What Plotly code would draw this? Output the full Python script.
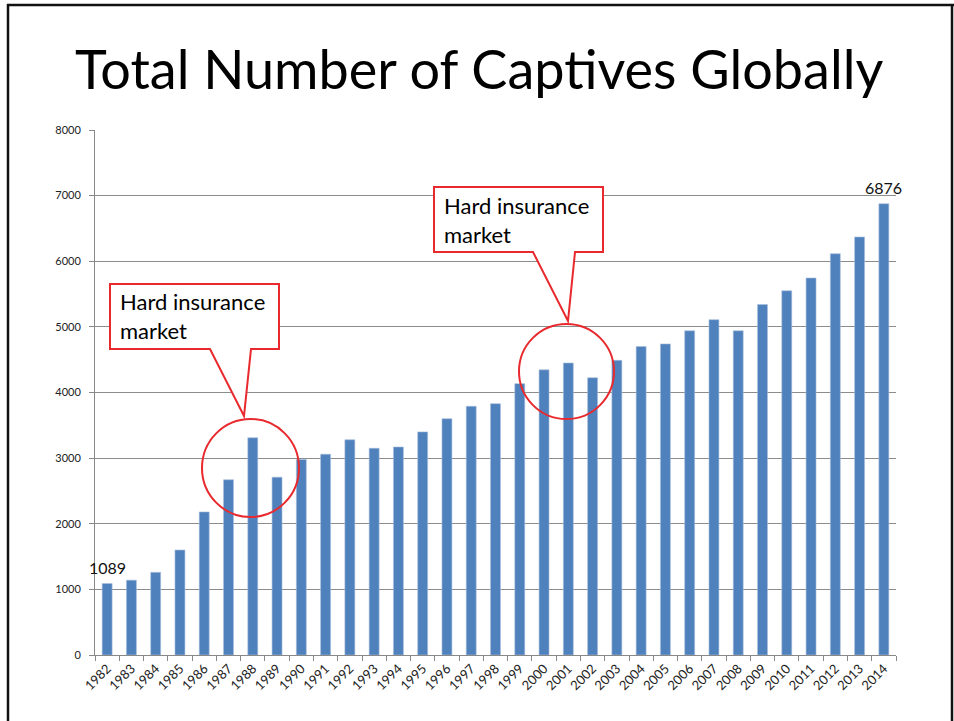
import plotly.graph_objects as go

years = [str(y) for y in range(1982, 2015)]
captives = [1089, 1140, 1260, 1600, 2180, 2670, 3310, 2710, 2980, 3060,
            3280, 3150, 3170, 3400, 3600, 3790, 3830, 4135, 4345, 4450,
            4225, 4490, 4700, 4740, 4940, 5110, 4940, 5340, 5550, 5745,
            6115, 6370, 6876]
labelled = {"1982": "1089", "2014": "6876"}
y_ticks = [0, 1000, 2000, 3000, 4000, 5000, 6000, 7000, 8000]

W, H = 954, 721
L, R, T, B = 95, 896, 130, 655

def px(x):
    return (x - L) / (R - L)

def py(y):
    return (B - y) / (B - T)

FONT = "Lato"
RED = "#E8292D"

fig = go.Figure()
fig.add_trace(go.Bar(
    x=years, y=captives,
    marker=dict(color="#4F81BD", line=dict(color="#A7BEDC", width=0.6)),
    hoverinfo="x+y",
))

shapes = []
# slide border
shapes.append(dict(type="line", xref="paper", yref="paper",
                   x0=px(8), x1=px(8), y0=py(4), y1=py(721), line=dict(color="#111", width=2.5)))
shapes.append(dict(type="line", xref="paper", yref="paper",
                   x0=px(7), x1=px(954), y0=py(5), y1=py(5), line=dict(color="#111", width=2.5)))
shapes.append(dict(type="line", xref="paper", yref="paper",
                   x0=px(952), x1=px(952), y0=py(4), y1=py(721), line=dict(color="#111", width=2.5)))

def callout(l, r, t, b, bl, br, tx, ty):
    pts = [(l, t), (r, t), (r, b), (br, b), (tx, ty), (bl, b), (l, b)]
    d = "M " + " L ".join(f"{px(a):.5f},{py(c):.5f}" for a, c in pts) + " Z"
    return dict(type="path", xref="paper", yref="paper", path=d,
                fillcolor="white", line=dict(color=RED, width=2), layer="above")

shapes.append(callout(110, 279, 284, 349, 210, 251, 244, 416))
shapes.append(callout(434, 603, 187, 252, 533, 575, 568, 321))
shapes.append(dict(type="circle", xref="paper", yref="paper",
                   x0=px(202), x1=px(299), y0=py(517), y1=py(419),
                   line=dict(color=RED, width=2), layer="above"))
shapes.append(dict(type="circle", xref="paper", yref="paper",
                   x0=px(519), x1=px(614), y0=py(419), y1=py(324),
                   line=dict(color=RED, width=2), layer="above"))

annotations = [
    dict(text="Total Number of Captives Globally", xref="paper", yref="paper",
         x=px(479), y=py(68), xanchor="center", yanchor="middle", showarrow=False,
         font=dict(family=FONT, size=54, color="#000")),
    dict(text="Hard insurance<br>market", xref="paper", yref="paper",
         x=px(118), y=py(316), xanchor="left", yanchor="middle", align="left",
         showarrow=False, font=dict(family=FONT, size=22, color="#000")),
    dict(text="Hard insurance<br>market", xref="paper", yref="paper",
         x=px(442), y=py(220), xanchor="left", yanchor="middle", align="left",
         showarrow=False, font=dict(family=FONT, size=22, color="#000")),
]
# data labels for first and last bars (x given as category index)
for yr, lab in labelled.items():
    i = years.index(yr)
    annotations.append(dict(
        text=lab, x=i, y=captives[i], xref="x", yref="y",
        xanchor="center", yanchor="bottom", yshift=5, showarrow=False,
        font=dict(family=FONT, size=16, color="#111")))

fig.update_layout(
    width=W, height=H,
    margin=dict(l=L, r=W - R, t=T, b=H - B),
    paper_bgcolor="white", plot_bgcolor="white",
    showlegend=False,
    bargap=0.59,
    shapes=shapes,
    annotations=annotations,
    font=dict(family=FONT),
)
fig.update_xaxes(
    type="category", tickangle=-45, tickson="boundaries",
    range=[-0.5, len(years) - 0.5],
    ticks="outside", ticklen=5, tickcolor="#888",
    showline=True, linecolor="#888", linewidth=1,
    tickfont=dict(family=FONT, size=13, color="#222"),
    showgrid=False,
)
fig.update_yaxes(
    range=[0, 8000], tickvals=y_ticks, ticktext=[str(v) for v in y_ticks],
    ticks="outside", ticklen=5, tickcolor="#888",
    showline=True, linecolor="#888", linewidth=1,
    showgrid=True, gridcolor="#8c8c8c", gridwidth=1,
    tickfont=dict(family=FONT, size=11, color="#222"),
    ticklabelstandoff=6,
    zeroline=False,
)

fig.write_html("out.html")
